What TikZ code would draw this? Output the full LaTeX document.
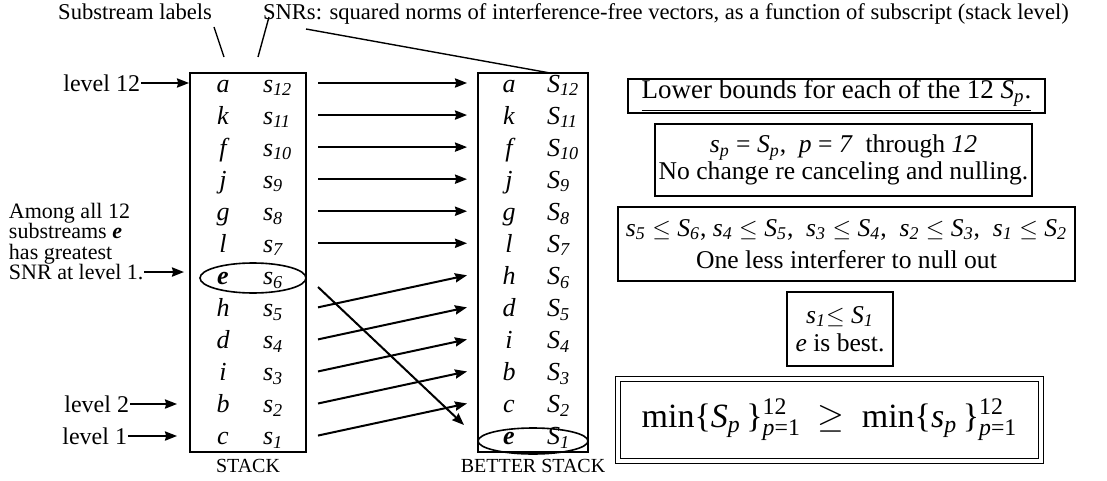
\documentclass[tikz,border=0pt]{standalone}
\usepackage{fontspec}
\usepackage{amsmath}
\setmainfont{Liberation Serif}
\usetikzlibrary{arrows.meta,shapes.geometric}
\newcommand\sv[2]{\textit{#1}$_{\textit{#2}}$}

\begin{document}
\begin{tikzpicture}[x=0.5pt,y=-0.5pt,line width=1pt,>={Stealth[length=6pt,width=4.6pt,inset=0.6pt]},
  captext/.style={inner sep=0pt,font=\fontsize{11.3}{12}\selectfont},
  sidetext/.style={inner sep=0pt,font=\fontsize{12}{13}\selectfont},
  amongtext/.style={inner sep=0pt,anchor=base west,font=\fontsize{11}{12}\selectfont},
  rowtext/.style={inner sep=0pt,font=\fontsize{13}{14}\selectfont},
  stackbox/.style={draw,minimum width=#1,minimum height=189.5pt,inner sep=0pt},
  pickring/.style={draw,ellipse,inner sep=0pt,line width=0.8pt},
  notebox/.style={draw,inner sep=0pt,align=center,font=\fontsize{12.8}{15}\selectfont},
  pointer/.style={line width=0.7pt}]
  \useasboundingbox (0,0) rectangle (1107,481);
  \node[stackbox=58pt] (stack) at (248,262.5) {};
  \node[stackbox=55pt] (better) at (533,262.5) {};
  \foreach \ltr/\num [count=\r] in {a/12,k/11,f/10,j/9,g/8,l/7,\textbf{e}/6,h/5,d/4,i/3,b/2,c/1}{
    \pgfmathsetmacro\yy{86+32.05*(\r-1)}
    \node[rowtext,anchor=base] (ll\r) at (223,\yy+6) {\itshape\ltr};
    \node[rowtext,anchor=base west] (ls\r) at (262,\yy+6) {\sv{s}{\num}};
    \coordinate (src\r) at (318,\yy-3);
  }
  \foreach \ltr/\num [count=\r] in {a/12,k/11,f/10,j/9,g/8,l/7,h/6,d/5,i/4,b/3,c/2,\textbf{e}/1}{
    \pgfmathsetmacro\yy{86+32.05*(\r-1)}
    \node[rowtext,anchor=base] (rl\r) at (509,\yy+6) {\itshape\ltr};
    \node[rowtext,anchor=base west] (rs\r) at (546,\yy+6) {\sv{S}{\num}};
    \coordinate (dst\r) at (467,\yy-3);
  }
  \foreach \r in {1,...,6} \draw[->] (src\r) -- (dst\r);
  \foreach \r [evaluate=\r as \q using int(\r-1)] in {8,...,12} \draw[->] (src\r) -- (dst\q);
  \coordinate (eout) at (318,287);
  \coordinate (ein) at (464,425);
  \draw[->] (eout) -- (ein);
  \node[pickring,minimum width=53pt,minimum height=15pt] (lbest) at (253,278) {};
  \node[pickring,minimum width=55pt,minimum height=13pt] (rbest) at (533,441) {};

  \node[captext,anchor=base east] (sublab) at (213,20) {Substream labels};
  \node[captext,anchor=base west] (snrlab) at (262,20) {SNRs: squared norms of interference-free vectors, as a function of subscript (stack level)};
  \coordinate (t1) at (214,27);
  \coordinate (h1) at (224,57);
  \coordinate (t2) at (269,17);
  \coordinate (h2) at (258,57);
  \coordinate (t3) at (306,29);
  \coordinate (h3) at (550,73);
  \draw[pointer] (t1) -- (h1);
  \draw[pointer] (t2) -- (h2);
  \draw[pointer] (t3) -- (h3);

  \node[sidetext,anchor=east] (lv12) at (141,83) {level 12};
  \draw[->] (lv12.east) -- (lv12.east -| stack.west);
  \node[sidetext,anchor=east] (lv2) at (130,404) {level 2};
  \draw[->] (lv2.east) -- ([xshift=-6pt]lv2.east -| stack.west);
  \node[sidetext,anchor=east] (lv1) at (128,436) {level 1};
  \draw[->] (lv1.east) -- ([xshift=-6pt]lv1.east -| stack.west);
  \node[amongtext] (among1) at (8,218) {Among all 12};
  \node[amongtext] (among2) at (8,238.5) {substreams \textbf{\textit{e}}};
  \node[amongtext] (among3) at (8,259) {has greatest};
  \node[amongtext] (snrlv) at (8,279.5) {SNR at level 1.};
  \draw[->] (snrlv.east) -- ([xshift=-2.5pt]snrlv.east -| stack.west);

  \node[captext,anchor=base,font=\fontsize{10}{12}\selectfont] (stk) at (248,472) {STACK};
  \node[captext,anchor=base,font=\fontsize{10}{12}\selectfont] (bstk) at (533,472) {BETTER STACK};

  \node[notebox,minimum width=208.5pt,minimum height=14pt,font=\fontsize{13.5}{15}\selectfont] (bounds) at (836.5,96) {\underline{Lower bounds for each of the 12 \sv{S}{p}.}};
  \node[notebox,minimum width=188.5pt,minimum height=36pt,font=\fontsize{12.8}{13.5}\selectfont] (equal) at (843.5,160) {\sv{s}{p} = \sv{S}{p}, \ \textit{p} = \textit{7} \ through \textit{12}\\No change re canceling and nulling.};
  \node[notebox,minimum width=228.5pt,minimum height=37pt,font=\fontsize{12.8}{16}\selectfont] (shift) at (846.5,244) {\sv{s}{5} $\leq$ \sv{S}{6}, \sv{s}{4} $\leq$ \sv{S}{5}, \ \sv{s}{3} $\leq$ \sv{S}{4}, \ \sv{s}{2} $\leq$ \sv{S}{3}, \ \sv{s}{1} $\leq$ \sv{S}{2}\\One less interferer to null out};
  \node[notebox,minimum width=53pt,minimum height=37pt,font=\fontsize{12.8}{14}\selectfont] (first) at (840,329) {\sv{s}{1}$\leq$ \sv{S}{1}\\\textit{e} is best.};
  \node[notebox,double,double distance=1.6pt,line width=0.8pt,minimum width=211.5pt,minimum height=41pt,font=\fontsize{17}{19}\selectfont] (minbound) at (829.5,420) {min\{\textit{S}$_{\textit{p}}$\,\}$^{\text{12}}_{\textit{p}\text{=1}}$ \ $\geq$ \ min\{\textit{s}$_{\textit{p}}$\,\}$^{\text{12}}_{\textit{p}\text{=1}}$};
\end{tikzpicture}
\end{document}
